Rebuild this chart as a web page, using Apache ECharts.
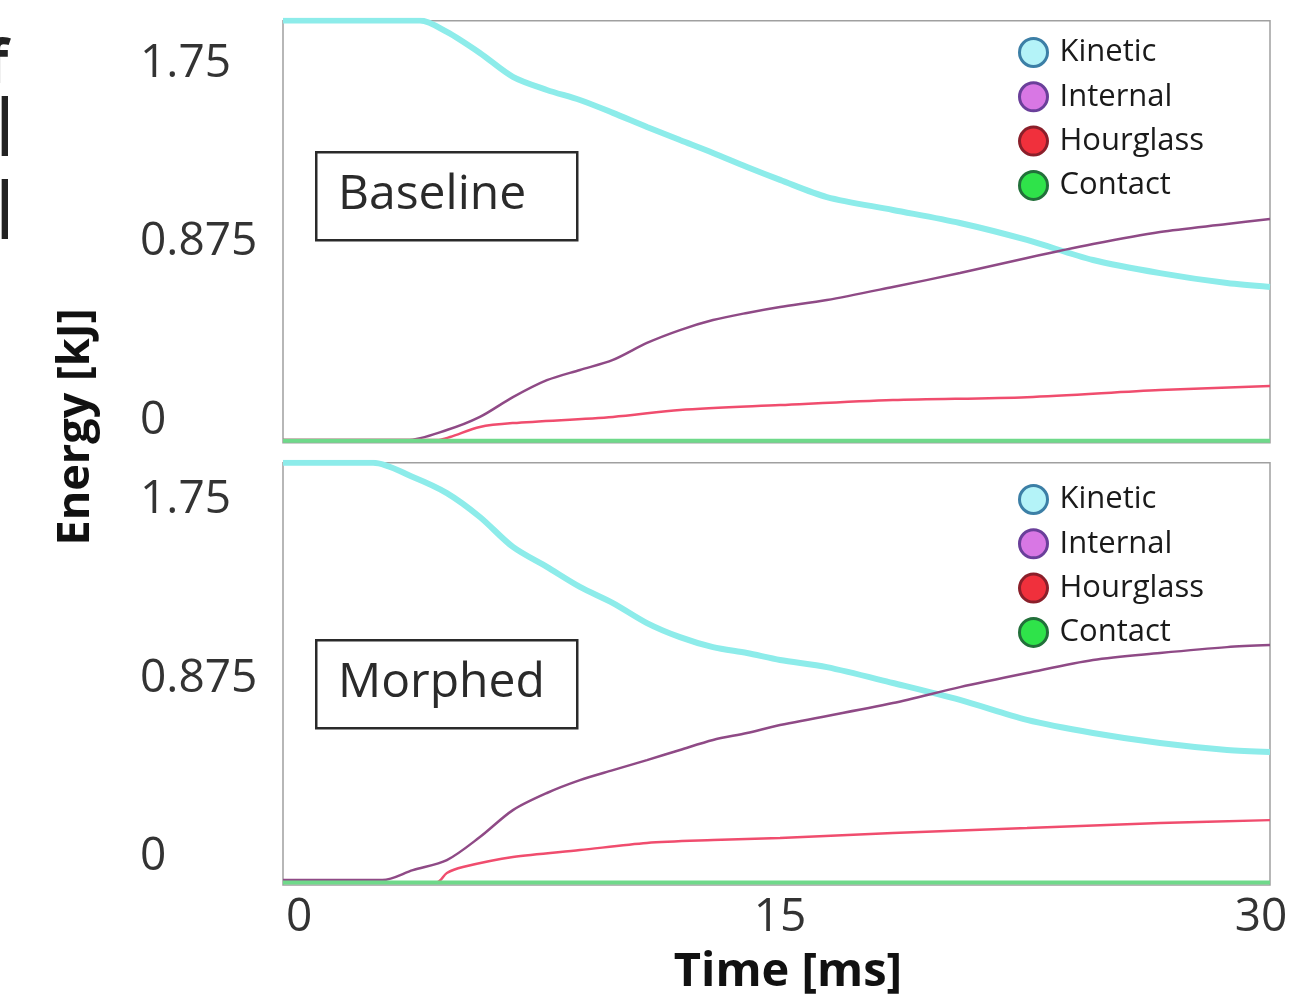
<!DOCTYPE html>
<html>
<head>
<meta charset="utf-8">
<script src="https://cdn.jsdelivr.net/npm/echarts@6/dist/echarts.min.js"></script>
<style>
html,body{margin:0;padding:0;background:#fff;}
#c{width:1294px;height:998px;}
</style>
</head>
<body>
<div id="c"></div>
<script>
// ---- DATA (time [ms], energy [kJ]) ----
const seriesNames = ['Kinetic', 'Internal', 'Hourglass', 'Contact'];
const panelNames = ['Baseline', 'Morphed'];
const xTickValues = [0, 15, 30];
const yTickValues = [0, 0.875, 1.75];

const baseKinetic = [[-0.5,1.96],[3.77,1.96],[4.61,1.904],[5.64,1.801],[6.67,1.684],[7.73,1.62],[8.76,1.571],[9.79,1.508],[10.85,1.439],[11.88,1.375],[12.91,1.312],[13.97,1.243],[15.0,1.18],[16.46,1.096],[18.52,1.033],[20.61,0.969],[22.7,0.886],[24.76,0.788],[26.85,0.724],[28.94,0.675],[30.28,0.656]];
const baseInternal = [[-0.5,-0.093],[3.37,-0.093],[4.61,-0.044],[5.64,0.02],[6.67,0.117],[7.73,0.2],[8.76,0.25],[9.79,0.299],[10.85,0.382],[11.88,0.445],[12.91,0.494],[13.97,0.529],[15.0,0.558],[16.46,0.592],[18.52,0.656],[20.61,0.724],[22.7,0.798],[24.76,0.866],[26.85,0.925],[28.94,0.964],[30.28,0.989]];
const baseHourglass = [[-0.5,-0.093],[4.3,-0.093],[4.71,-0.078],[5.64,-0.029],[6.67,-0.01],[9.79,0.02],[11.88,0.054],[15.0,0.078],[18.52,0.103],[22.7,0.117],[26.85,0.152],[30.28,0.171]];
const baseContact = [[-0.5,-0.096],[10,-0.096],[20,-0.097],[30.28,-0.097]];

const morphKinetic = [[-0.5,1.933],[2.31,1.933],[3.55,1.863],[4.61,1.784],[5.64,1.667],[6.67,1.52],[7.73,1.422],[8.76,1.324],[9.79,1.245],[10.85,1.147],[11.88,1.078],[12.91,1.029],[13.97,1.0],[15.0,0.966],[16.46,0.931],[18.52,0.853],[20.61,0.77],[22.7,0.672],[24.76,0.608],[26.85,0.559],[28.94,0.525],[30.28,0.515]];
const morphInternal = [[-0.5,-0.113],[2.6,-0.113],[3.55,-0.064],[4.61,-0.015],[5.64,0.098],[6.67,0.23],[7.73,0.314],[8.76,0.377],[9.79,0.426],[10.85,0.475],[11.88,0.525],[12.91,0.574],[13.97,0.608],[15.0,0.647],[18.52,0.755],[20.61,0.833],[22.7,0.902],[24.76,0.966],[26.85,1.0],[28.94,1.029],[30.28,1.039]];
const morphHourglass = [[-0.5,-0.123],[4.3,-0.123],[4.61,-0.078],[5.11,-0.049],[6.67,0],[8.76,0.034],[10.85,0.069],[12.91,0.083],[15.0,0.093],[18.52,0.118],[22.7,0.142],[26.85,0.167],[30.28,0.181]];
const morphContact = [[-0.5,-0.125],[15,-0.125],[30.28,-0.125]];

// ---- STYLE ----
const FONT = 'Open Sans';
const lineStyles = {
  Kinetic:   {color:'#8decea', width:6},
  Internal:  {color:'#8f4a86', width:2.5},
  Hourglass: {color:'#f04d6e', width:2.5},
  Contact:   {color:'#6fd98a', width:4}
};
const legendIcons = {
  Kinetic:   {color:'#b4f3f8', borderColor:'#3c7fa6', borderWidth:3},
  Internal:  {color:'#d877e4', borderColor:'#6a3f9a', borderWidth:3},
  Hourglass: {color:'#f0303c', borderColor:'#8a1f2a', borderWidth:3},
  Contact:   {color:'#2fe34a', borderColor:'#22703a', borderWidth:3}
};

const panels = [
  {data:[baseKinetic, baseInternal, baseHourglass, baseContact], top:20.7, height:422, ymin:-0.106, ymax:1.959, legendTop:32},
  {data:[morphKinetic, morphInternal, morphHourglass, morphContact], top:462.7, height:422.3, ymin:-0.137, ymax:1.933, legendTop:479}
];

const grid = [], xAxis = [], yAxis = [], series = [], legend = [];
panels.forEach((p, i) => {
  grid.push({left:283, top:p.top, width:987, height:p.height, show:true, borderColor:'#a0a0a0', borderWidth:1.5, backgroundColor:'#fff'});
  xAxis.push({
    type:'value', gridIndex:i, min:-0.5, max:30.28,
    axisLine:{show:false}, axisTick:{show:false}, splitLine:{show:false},
    axisLabel:{show:i===1, customValues:xTickValues, margin:10, fontSize:46, fontFamily:FONT, color:'#333',
      formatter:v=>String(v)}
  });
  yAxis.push({
    type:'value', gridIndex:i, min:p.ymin, max:p.ymax,
    axisLine:{show:false}, axisTick:{show:false}, splitLine:{show:false},
    axisLabel:{customValues:yTickValues, margin:143, align:'left', fontSize:46, fontFamily:FONT, color:'#333',
      formatter:v=>String(v)}
  });
  seriesNames.forEach((n, k) => {
    series.push({
      name:n, type:'line', xAxisIndex:i, yAxisIndex:i,
      data:p.data[k], showSymbol:false, smooth:0.3, clip:true,
      lineStyle:lineStyles[n], itemStyle:{color:legendIcons[n].color},
      emphasis:{disabled:true}, z:2+k
    });
  });
  legend.push({
    orient:'vertical', left:1013, top:p.legendTop, icon:'circle',
    itemWidth:28, itemHeight:28, itemGap:13.3,
    textStyle:{fontFamily:FONT, fontSize:31, color:'#1a1a1a', padding:[0,0,0,7], lineHeight:30},
    data:seriesNames.map(n => ({name:n, itemStyle:legendIcons[n]}))
  });
});

const boxes = [
  {label:panelNames[0], x:315, y:151, w:261, h:88},
  {label:panelNames[1], x:315, y:639, w:261, h:88}
];
const graphic = [];
boxes.forEach(b => {
  graphic.push({type:'rect', left:b.x, top:b.y, z:100,
    shape:{width:b.w, height:b.h}, style:{fill:'#fff', stroke:'#2a2a2a', lineWidth:2.5}});
  graphic.push({type:'text', x:338, y:b.y + b.h/2, z:101,
    style:{text:b.label, font:'48px "Open Sans"', fill:'#2a2a2a', verticalAlign:'middle'}});
});
graphic.push({type:'text', x:788, y:973, z:100,
  style:{text:'Time [ms]', font:'bold 47px "Open Sans"', fill:'#111', align:'center', verticalAlign:'middle'}});
graphic.push({type:'text', x:76, y:427, rotation:Math.PI/2, z:100,
  style:{text:'Energy [kJ]', font:'bold 45px "Open Sans"', fill:'#111', align:'center', verticalAlign:'middle'}});
// cropped text fragments at the left edge
graphic.push({type:'text', x:-15, y:66, z:100, style:{text:'f', font:'bold 60px "Open Sans"', fill:'#222', verticalAlign:'middle'}});
graphic.push({type:'text', x:-5, y:134, z:100, style:{text:'l', font:'78px "Open Sans"', fill:'#222', verticalAlign:'middle'}});
graphic.push({type:'text', x:-5, y:217, z:100, style:{text:'l', font:'78px "Open Sans"', fill:'#222', verticalAlign:'middle'}});

const chart = echarts.init(document.getElementById('c'), null, {renderer:'canvas'});
chart.setOption({
  backgroundColor:'#fff', animation:false,
  grid, xAxis, yAxis, series, legend, graphic
});
</script>
</body>
</html>
